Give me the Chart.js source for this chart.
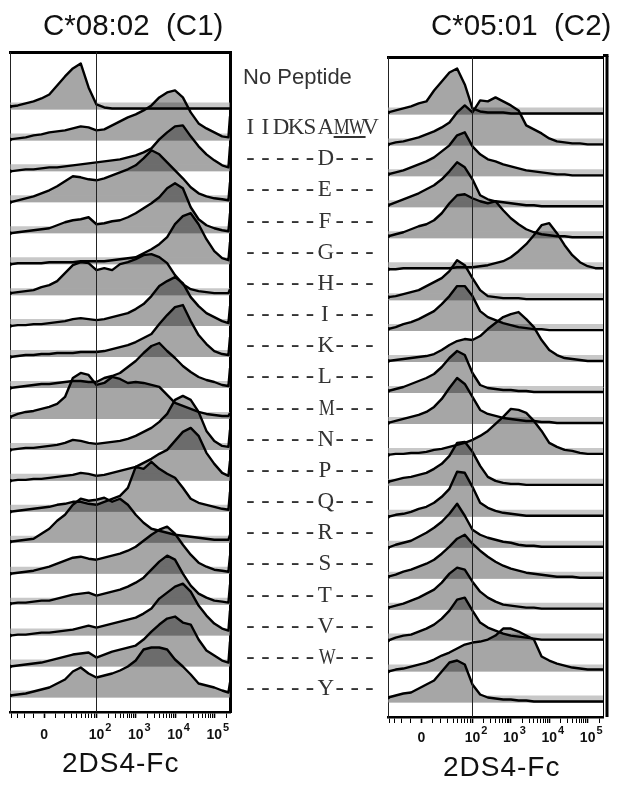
<!DOCTYPE html>
<html>
<head>
<meta charset="utf-8">
<script src="https://cdn.jsdelivr.net/npm/chart.js@4.4.1/dist/chart.umd.min.js"></script>
<style>
  body { margin: 0; background: #fff; }
  #page { position: relative; width: 617px; height: 786px; overflow: hidden; font-family: 'Liberation Sans', Arial, sans-serif; color: #111; }
  canvas { position: absolute; left: 0; top: 0; }
  .txt { position: absolute; z-index: 2; white-space: pre; }
  .title { top: 10px; font-size: 29.5px; line-height: 30px; }
  .axis-title { font-size: 28px; line-height: 28px; letter-spacing: 1px; }
  .pep { left: 243px; height: 30px; line-height: 30px; color: #333; }
  .pep span { display: inline-block; width: 14.9px; text-align: center; }
  .pep .d { font-family: 'Liberation Mono', monospace; font-size: 24px; }
  .pep .l { font-family: 'Liberation Serif', serif; font-size: 23px; }
  .pep .w { transform: scaleX(0.78); }
</style>
</head>
<body>
<div id="page">
  <canvas id="c1" width="617" height="786"></canvas>
  <canvas id="c2" width="617" height="786"></canvas>
  <div class="txt title" style="left:43px">C*08:02  (C1)</div>
  <div class="txt title" style="left:431px">C*05:01  (C2)</div>
  <div class="txt axis-title" style="left:62px; top:749px">2DS4-Fc</div>
  <div class="txt axis-title" style="left:443px; top:753px">2DS4-Fc</div>
  <div id="labels"></div>
</div>
<script>
// x grid in display decades (logicle-like axis: 2 = 10^2, 3 = 10^3 ...)
const xPos = [-0.2, 0, 0.2, 0.4, 0.6, 0.8, 1, 1.2, 1.4, 1.6, 1.8, 2, 2.2, 2.4, 2.6, 2.8, 3, 3.2, 3.4, 3.6, 3.8, 4, 4.2, 4.4, 4.6, 4.8, 5, 5.2, 5.36, 5.4];

const rowNames = ['No Peptide', 'IIDKSAMWV', '-----D---', '-----E---', '-----F---', '-----G---', '-----H---', '-----I---', '-----K---', '-----L---',
  '-----M---', '-----N---', '-----P---', '-----Q---', '-----R---', '-----S---', '-----T---', '-----V---', '-----W---', '-----Y---'];

const majorTicks = [0.67, 2, 3, 4, 5];
const majorLabels = ['0', '2', '3', '4', '5'];
const minorTicks = [-0.16, -0.02, 0.16, 0.39, 0.95, 1.18, 1.36, 1.5, 1.62, 1.72, 1.8, 1.87, 1.94,
  2.3, 2.48, 2.6, 2.7, 2.78, 2.85, 2.9, 2.95, 3.3, 3.48, 3.6, 3.7, 3.78, 3.85, 3.9, 3.95,
  4.3, 4.48, 4.6, 4.7, 4.78, 4.85, 4.9, 4.95, 5.3];

// C*08:02 (C1) histogram counts, one array per peptide (last value = top channel pile-up)
const c1None = [3, 4, 6, 8, 11, 15, 24, 33, 41, 46, 22, 5, 2, 1, 1, 1, 1, 1, 1, 1, 1, 1, 1, 1, 1, 1, 1, 1, 1, 1];
const c1Wt = [1, 2, 3, 5, 6, 8, 9, 10, 12, 14, 13, 10, 11, 15, 19, 23, 26, 30, 35, 43, 48, 50, 43, 28, 17, 12, 8, 4, 3, 24];
const c1D = [0, 1, 2, 2, 3, 4, 4, 5, 6, 7, 8, 9, 10, 11, 12, 14, 16, 19, 23, 32, 39, 45, 46, 35, 25, 17, 11, 6, 4, 25];
const c1E = [0, 2, 4, 6, 9, 12, 16, 21, 26, 25, 23, 22, 24, 27, 30, 33, 37, 44, 52, 48, 40, 32, 24, 15, 9, 6, 4, 3, 2, 20];
const c1F = [0, 1, 2, 3, 4, 5, 8, 11, 13, 14, 16, 9, 10, 12, 13, 16, 20, 25, 30, 36, 45, 50, 45, 26, 14, 8, 5, 3, 2, 20];
const c1G = [0, 1, 1, 1, 1, 2, 2, 2, 2, 3, 3, 3, 3, 4, 5, 6, 7, 11, 15, 20, 27, 40, 48, 51, 40, 25, 13, 6, 4, 22];
const c1H = [2, 3, 4, 5, 8, 10, 14, 22, 30, 33, 32, 25, 27, 25, 31, 33, 36, 40, 41, 38, 32, 20, 11, 6, 4, 3, 2, 2, 2, 6];
const c1I = [0, 1, 1, 2, 2, 3, 4, 5, 7, 8, 7, 6, 7, 9, 11, 13, 17, 22, 30, 40, 45, 49, 43, 29, 20, 13, 9, 5, 3, 20];
const c1K = [0, 1, 2, 2, 3, 3, 4, 4, 4, 5, 5, 5, 6, 8, 10, 12, 15, 19, 23, 33, 42, 50, 52, 36, 22, 13, 6, 3, 2, 20];
const c1L = [0, 1, 2, 3, 4, 4, 5, 6, 7, 7, 6, 6, 10, 12, 15, 21, 27, 35, 42, 45, 37, 30, 22, 16, 11, 8, 6, 3, 2, 20];
const c1M = [2, 5, 7, 8, 10, 12, 15, 22, 41, 46, 44, 34, 36, 42, 40, 36, 37, 36, 34, 32, 24, 16, 13, 10, 7, 5, 4, 3, 3, 6];
const c1N = [0, 1, 2, 2, 3, 4, 5, 7, 10, 9, 7, 6, 7, 8, 9, 11, 14, 18, 22, 28, 36, 50, 54, 50, 38, 19, 9, 4, 3, 20];
const c1P = [0, 1, 1, 2, 2, 3, 4, 5, 6, 8, 7, 5, 6, 8, 10, 12, 14, 18, 22, 27, 31, 40, 49, 53, 45, 28, 17, 8, 5, 20];
const c1Q = [0, 1, 2, 3, 4, 5, 7, 8, 10, 10, 8, 7, 10, 13, 16, 24, 45, 43, 50, 43, 38, 34, 24, 13, 9, 7, 5, 3, 2, 20];
const c1R = [1, 2, 3, 4, 9, 14, 22, 28, 38, 44, 42, 43, 45, 41, 44, 38, 28, 20, 14, 12, 10, 8, 7, 6, 5, 4, 3, 3, 3, 8];
const c1S = [0, 1, 2, 3, 5, 7, 10, 13, 16, 17, 15, 14, 16, 18, 20, 23, 27, 33, 39, 44, 47, 40, 29, 19, 11, 7, 4, 3, 2, 18];
const c1T = [1, 2, 2, 3, 4, 4, 6, 8, 10, 11, 12, 9, 11, 13, 15, 18, 22, 27, 35, 43, 49, 45, 31, 19, 11, 7, 4, 3, 2, 20];
const c1V = [0, 1, 1, 2, 3, 3, 4, 5, 6, 8, 10, 8, 10, 12, 14, 16, 18, 22, 27, 37, 43, 49, 52, 44, 30, 20, 12, 7, 5, 25];
const c1W = [0, 1, 2, 3, 4, 6, 8, 10, 12, 13, 14, 9, 12, 15, 17, 19, 21, 27, 35, 42, 48, 50, 44, 42, 27, 16, 11, 6, 4, 25];
const c1Y = [2, 3, 4, 6, 8, 10, 14, 18, 26, 30, 24, 20, 22, 24, 27, 31, 37, 48, 50, 50, 48, 38, 31, 23, 14, 12, 10, 7, 5, 15];

// C*05:01 (C2) histogram counts
const c2None = [2, 4, 6, 8, 11, 13, 24, 33, 42, 46, 30, 6, 3, 2, 2, 2, 1, 1, 1, 1, 1, 1, 1, 1, 1, 1, 1, 1, 1, 1];
const c2Wt = [1, 3, 4, 6, 8, 11, 14, 18, 23, 33, 40, 33, 45, 44, 48, 44, 40, 35, 20, 16, 12, 7, 4, 3, 2, 2, 1, 1, 1, 1];
const c2D = [2, 4, 6, 9, 12, 15, 19, 25, 31, 41, 44, 30, 22, 17, 15, 12, 10, 8, 6, 5, 4, 3, 2, 2, 1, 1, 1, 1, 1, 1];
const c2E = [2, 5, 8, 11, 14, 18, 22, 28, 36, 45, 40, 28, 12, 8, 6, 5, 4, 3, 2, 2, 1, 1, 1, 1, 1, 1, 1, 1, 1, 1];
const c2F = [2, 4, 6, 9, 12, 14, 18, 25, 35, 43, 44, 40, 37, 35, 37, 28, 20, 14, 9, 6, 4, 3, 2, 2, 1, 1, 1, 1, 1, 1];
const c2G = [0, 0, 1, 1, 1, 1, 1, 1, 1, 2, 2, 2, 3, 4, 6, 8, 12, 18, 25, 34, 44, 46, 36, 24, 14, 7, 3, 1, 1, 1];
const c2H = [3, 4, 6, 8, 10, 14, 18, 22, 29, 40, 35, 22, 10, 4, 3, 2, 2, 2, 1, 1, 1, 1, 1, 1, 1, 1, 1, 1, 1, 1];
const c2I = [2, 4, 7, 9, 12, 16, 20, 27, 35, 45, 45, 35, 20, 14, 11, 8, 6, 4, 3, 2, 2, 1, 1, 1, 1, 1, 1, 1, 1, 1];
const c2K = [1, 2, 3, 4, 5, 6, 8, 12, 17, 21, 23, 22, 26, 33, 39, 45, 48, 50, 43, 35, 22, 12, 7, 4, 3, 2, 1, 1, 1, 1];
const c2L = [2, 4, 6, 9, 12, 15, 19, 26, 35, 42, 38, 20, 8, 5, 4, 3, 3, 2, 2, 1, 1, 1, 1, 1, 1, 1, 1, 1, 1, 1];
const c2M = [1, 3, 5, 7, 9, 12, 17, 25, 36, 46, 40, 27, 14, 10, 8, 6, 5, 4, 3, 3, 2, 2, 1, 1, 1, 1, 1, 1, 1, 1];
const c2N = [0, 1, 1, 2, 2, 3, 5, 6, 8, 10, 12, 15, 19, 24, 31, 38, 46, 45, 42, 34, 24, 12, 8, 5, 4, 2, 1, 1, 1, 1];
const c2P = [4, 6, 8, 9, 11, 13, 17, 22, 30, 43, 44, 34, 20, 9, 5, 3, 2, 2, 1, 1, 1, 1, 1, 1, 1, 1, 1, 1, 1, 1];
const c2Q = [0, 2, 3, 5, 8, 10, 14, 20, 28, 45, 44, 30, 14, 9, 6, 4, 3, 2, 1, 1, 1, 1, 1, 1, 1, 1, 1, 1, 1, 1];
const c2R = [0, 3, 5, 7, 11, 15, 20, 26, 34, 44, 32, 18, 13, 10, 8, 6, 5, 3, 2, 2, 1, 1, 1, 1, 1, 1, 1, 1, 1, 1];
const c2S = [2, 4, 7, 9, 12, 15, 19, 25, 32, 40, 44, 35, 28, 22, 17, 13, 10, 8, 6, 5, 4, 3, 2, 2, 2, 1, 1, 1, 1, 1];
const c2T = [2, 4, 6, 9, 12, 16, 20, 27, 36, 42, 40, 28, 18, 12, 8, 5, 4, 3, 2, 2, 1, 1, 1, 1, 1, 1, 1, 1, 1, 1];
const c2V = [0, 3, 5, 6, 9, 12, 16, 22, 30, 41, 43, 30, 18, 13, 10, 7, 5, 4, 3, 2, 1, 1, 1, 1, 1, 1, 1, 1, 1, 1];
const c2W = [0, 2, 3, 5, 7, 9, 12, 16, 19, 23, 27, 29, 30, 32, 36, 43, 43, 40, 36, 32, 15, 11, 8, 6, 4, 3, 2, 2, 2, 2];
const c2Y = [5, 7, 9, 10, 14, 18, 22, 31, 40, 42, 38, 18, 8, 5, 4, 3, 3, 2, 2, 1, 1, 1, 1, 1, 1, 1, 1, 1, 1, 1];

const c1Rows = [c1None, c1Wt, c1D, c1E, c1F, c1G, c1H, c1I, c1K, c1L, c1M, c1N, c1P, c1Q, c1R, c1S, c1T, c1V, c1W, c1Y];
const c2Rows = [c2None, c2Wt, c2D, c2E, c2F, c2G, c2H, c2I, c2K, c2L, c2M, c2N, c2P, c2Q, c2R, c2S, c2T, c2V, c2W, c2Y];

const ROW_STEP = 30.95;
const Y_MAX = 660;
const BAND = 7;

function rowBase(i) {
    return 14.5 + (19 - i) * ROW_STEP;
}

function buildDatasets(rows) {
    const ds = [];
    rows.forEach((counts, i) => {
        const base = rowBase(i);
        const pts = counts.map((v, k) => ({ x: xPos[k], y: base + v }));
        const o = 3 * (19 - i);
        // histogram fill
        ds.push({
            label: rowNames[i] + ' fill',
            data: pts,
            borderWidth: 0,
            backgroundColor: 'rgba(0,0,0,0.35)',
            fill: { target: { value: base } },
            pointRadius: 0,
            tension: 0,
            order: o + 2
        });
        // light strip along the row baseline
        ds.push({
            label: rowNames[i] + ' band',
            data: [{ x: xPos[0], y: base + BAND }, { x: xPos[xPos.length - 1], y: base + BAND }],
            borderWidth: 0,
            backgroundColor: 'rgba(166,166,166,0.62)',
            fill: { target: { value: base } },
            pointRadius: 0,
            order: o + 1
        });
        // histogram outline
        ds.push({
            label: rowNames[i],
            data: pts,
            borderColor: '#000',
            borderWidth: 2.4,
            borderJoinStyle: 'round',
            fill: false,
            pointRadius: (c) => (c.dataIndex === 0 ? 2 : 0),
            pointBackgroundColor: '#000',
            pointBorderWidth: 0,
            tension: 0,
            order: o
        });
    });
    return ds;
}

const decor = {
    id: 'decor',
    afterDatasetsDraw(chart, args, opts) {
        const { ctx, chartArea: a } = chart;
        const x = chart.scales.x;
        ctx.save();
        // 10^2 reference line
        const px = Math.round(x.getPixelForValue(2)) + 0.5;
        ctx.strokeStyle = '#222';
        ctx.lineWidth = 1;
        ctx.beginPath();
        ctx.moveTo(px, a.top);
        ctx.lineTo(px, a.bottom);
        ctx.stroke();
        if (opts.outerRight) {
            ctx.lineWidth = 3;
            ctx.strokeStyle = '#000';
            ctx.beginPath();
            ctx.moveTo(a.right + 4, a.top - 1);
            ctx.lineTo(a.right + 4, a.bottom);
            ctx.stroke();
            ctx.beginPath();
            ctx.moveTo(a.right, a.top - 1.5);
            ctx.lineTo(a.right + 5.5, a.top - 1.5);
            ctx.stroke();
        }
        // tick labels
        ctx.fillStyle = '#111';
        ctx.textBaseline = 'middle';
        const ly = a.bottom + opts.labelOffset;
        majorTicks.forEach((v, k) => {
            const tx = x.getPixelForValue(v);
            ctx.font = 'bold 14px "Liberation Sans", Arial, sans-serif';
            if (majorLabels[k] === '0') {
                ctx.textAlign = 'center';
                ctx.fillText('0', tx, ly);
            } else {
                ctx.textAlign = 'center';
                ctx.fillText('10', tx, ly);
                const w = ctx.measureText('10').width;
                ctx.font = 'bold 11px "Liberation Sans", Arial, sans-serif';
                ctx.textAlign = 'left';
                ctx.fillText(majorLabels[k], tx + w / 2 + 1, ly - 7);
            }
        });
        ctx.restore();
    }
};

function makeChart(id, rows, area, opts) {
    const ctx = document.getElementById(id).getContext('2d');
    return new Chart(ctx, {
        type: 'line',
        data: { datasets: buildDatasets(rows) },
        options: {
            responsive: false,
            devicePixelRatio: 1,
            animation: false,
            events: [],
            layout: {
                padding: { left: area.left, right: 617 - area.right, top: area.top, bottom: 786 - area.bottom - 6 }
            },
            scales: {
                x: {
                    type: 'linear', min: -0.2, max: 5.4,
                    afterBuildTicks: (scale) => {
                        scale.ticks = majorTicks.concat(minorTicks).sort((p, q) => p - q).map(v => ({ value: v }));
                    },
                    ticks: { display: false },
                    grid: {
                        display: true, drawOnChartArea: false, drawTicks: true, tickLength: 6,
                        tickColor: '#000',
                        tickWidth: (c) => (majorTicks.includes(c.tick && c.tick.value) ? 1.6 : 1)
                    },
                    border: { display: true, color: '#000', width: 2.5 }
                },
                x2: {
                    type: 'linear', position: 'top', min: -0.2, max: 5.4,
                    ticks: { display: false },
                    grid: { display: false, drawTicks: false },
                    border: { display: true, color: '#000', width: 3 }
                },
                y: {
                    type: 'linear', min: 0, max: Y_MAX,
                    ticks: { display: false },
                    grid: { display: false, drawTicks: false },
                    border: { display: true, color: '#222', width: 1 }
                },
                y2: {
                    type: 'linear', position: 'right', min: 0, max: Y_MAX,
                    ticks: { display: false },
                    grid: { display: false, drawTicks: false },
                    border: { display: true, color: '#000', width: opts.rightWidth }
                }
            },
            plugins: {
                legend: { display: false },
                tooltip: { enabled: false },
                title: { display: false },
                decor: opts
            }
        },
        plugins: [decor]
    });
}

makeChart('c1', c1Rows, { left: 10, right: 230, top: 52, bottom: 712 }, { rightWidth: 3, outerRight: false, labelOffset: 23 });
makeChart('c2', c2Rows, { left: 388, right: 603, top: 57, bottom: 717 }, { rightWidth: 1, outerRight: true, labelOffset: 21 });

// peptide labels in the middle column
const labelBox = document.getElementById('labels');
rowNames.forEach((name, k) => {
    const div = document.createElement('div');
    div.className = 'txt pep';
    if (k === 0) {
        div.style.top = (77 - 15) + 'px';
        div.style.fontSize = '22px';
        div.textContent = name;
    } else {
        div.style.top = (127 + 31.17 * (k - 1) - 15) + 'px';
        [...name].forEach((ch, j) => {
            const s = document.createElement('span');
            s.className = ch === '-' ? 'd' : ((ch === 'M' || ch === 'W') ? 'l w' : 'l');
            s.textContent = ch;
            if (k === 1 && (j === 6 || j === 7)) s.style.textDecoration = 'underline';
            div.appendChild(s);
        });
    }
    labelBox.appendChild(div);
});
</script>
</body>
</html>
